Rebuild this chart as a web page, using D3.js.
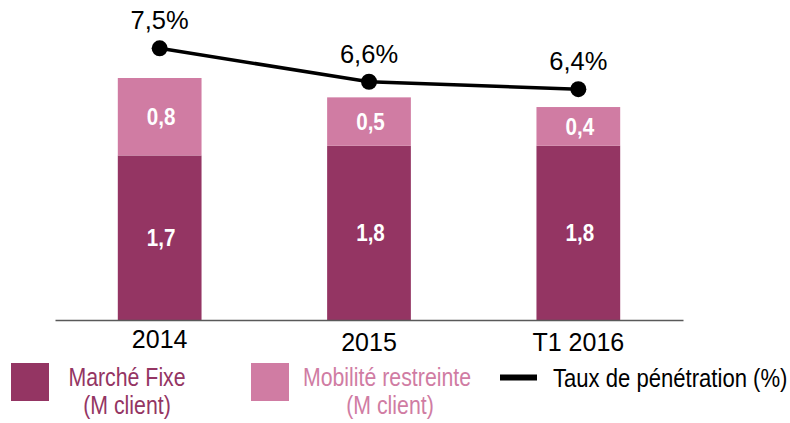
<!DOCTYPE html>
<html><head><meta charset="utf-8">
<script src="https://cdn.jsdelivr.net/npm/d3@7"></script>
<style>body{margin:0;background:#fff}svg{display:block}</style>
</head><body>
<svg id="c" width="790" height="423"></svg>
<script>
const categories = ["2014", "2015", "T1 2016"];
const fixe = [1.7, 1.8, 1.8];
const mobilite = [0.8, 0.5, 0.4];
const taux = [7.5, 6.6, 6.4];
const tauxLabels = ["7,5%", "6,6%", "6,4%"];
const fixeLabels = ["1,7", "1,8", "1,8"];
const mobLabels = ["0,8", "0,5", "0,4"];

const DARK = "#943563", LIGHT = "#D07CA3";
const SANS = "'Liberation Sans',Arial,sans-serif";
const NX = 0.82; // narrow scale

const svg = d3.select("#c");
const x = d3.scaleBand().domain(categories).range([55, 683]).paddingInner(0.6).paddingOuter(0.3);
const y = d3.scaleLinear().domain([0, 2.5]).range([320, 78]);
const yl = d3.scaleLinear().domain([6, 7.5]).range([104, 48.3]);

const data = categories.map((c, i) => ({c, f: fixe[i], m: mobilite[i], t: taux[i], tl: tauxLabels[i], fl: fixeLabels[i], ml: mobLabels[i]}));

function narrowText(sel, px, py, str, size, fill, anchor, weight, sx) {
  return sel.append("text")
    .attr("transform", `translate(${px},${py}) scale(${sx || NX},1)`)
    .attr("text-anchor", anchor || "middle").attr("font-family", SANS)
    .attr("font-weight", weight || "normal").attr("font-size", size).attr("fill", fill).text(str);
}

// bars
const g = svg.append("g");
g.selectAll("rect.f").data(data).join("rect")
  .attr("x", d => x(d.c)).attr("width", x.bandwidth())
  .attr("y", d => y(d.f)).attr("height", d => y(0) - y(d.f)).attr("fill", DARK);
g.selectAll("rect.m").data(data).join("rect")
  .attr("x", d => x(d.c)).attr("width", x.bandwidth())
  .attr("y", d => y(d.f + d.m)).attr("height", d => y(d.f) - y(d.f + d.m)).attr("fill", LIGHT);

// bar labels
const cx = d => x(d.c) + x.bandwidth()/2;
data.forEach(d => {
  narrowText(g, cx(d) + 1.5, (y(0) + y(d.f))/2 + 8.5, d.fl, 24, "#fff", "middle", "bold", 0.86);
  narrowText(g, cx(d) + 1.5, (y(d.f) + y(d.f + d.m))/2 + 8.5, d.ml, 24, "#fff", "middle", "bold", 0.86);
});

// axis
const axis = d3.axisBottom(x).tickSize(0).tickPadding(14);
const ag = svg.append("g").attr("transform", "translate(0,320)").call(axis);
ag.select(".domain").attr("stroke", "#595959").attr("stroke-width", 1.5);
ag.selectAll("text").attr("font-family", SANS).attr("font-size", 25).attr("fill", "#000")
  .attr("dy", (d, i) => i === 0 ? "0.55em" : "0.68em");

// line
svg.append("path").datum(data)
  .attr("d", d3.line().x(cx).y(d => yl(d.t)))
  .attr("fill", "none").attr("stroke", "#000").attr("stroke-width", 3.5);
svg.selectAll("circle.t").data(data).join("circle")
  .attr("cx", cx).attr("cy", d => yl(d.t)).attr("r", 8).attr("fill", "#000");
svg.selectAll("text.tl").data(data).join("text")
  .attr("x", cx).attr("y", d => yl(d.t) - 19)
  .attr("text-anchor", "middle").attr("font-family", SANS).attr("font-size", 25.5)
  .attr("fill", "#000").text(d => d.tl);

// legend
const lg = svg.append("g");
lg.append("rect").attr("x", 11).attr("y", 363).attr("width", 38).attr("height", 38).attr("fill", DARK);
narrowText(lg, 127, 386, "Marché Fixe", 26, DARK);
narrowText(lg, 127, 414, "(M client)", 26, DARK);
lg.append("rect").attr("x", 251).attr("y", 363).attr("width", 38).attr("height", 38).attr("fill", LIGHT);
narrowText(lg, 387, 386, "Mobilité restreinte", 26, LIGHT);
narrowText(lg, 390, 414, "(M client)", 26, LIGHT);
lg.append("line").attr("x1", 500).attr("x2", 537).attr("y1", 377.5).attr("y2", 377.5)
  .attr("stroke", "#000").attr("stroke-width", 6);
narrowText(lg, 553, 387, "Taux de pénétration (%)", 26, "#000", "start", "normal", 0.85);
</script>
</body></html>
